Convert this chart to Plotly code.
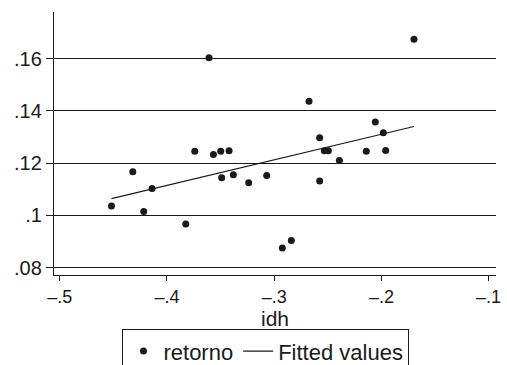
import plotly.graph_objects as go

# ---- data ----
idh = [-0.4518, -0.4319, -0.4217, -0.4139, -0.3825, -0.3741, -0.3608, -0.3567,
       -0.3499, -0.3421, -0.3490, -0.3381, -0.3238, -0.3070, -0.2924, -0.2840,
       -0.2675, -0.2576, -0.2576, -0.2532, -0.2495, -0.2392, -0.2141, -0.2057,
       -0.1982, -0.1960, -0.1696]
retorno = [0.1036, 0.1167, 0.1015, 0.1103, 0.0967, 0.1245, 0.1603, 0.1233,
           0.1245, 0.1247, 0.1144, 0.1155, 0.1125, 0.1153, 0.0875, 0.0904,
           0.1437, 0.1297, 0.1132, 0.1247, 0.1247, 0.1210, 0.1245, 0.1357,
           0.1316, 0.1248, 0.1674]
fit_x = [-0.4518, -0.1696]
fit_y = [0.1064, 0.1340]

x_tickvals = [-0.5, -0.4, -0.3, -0.2, -0.1]
x_ticktext = ["\u2013.5", "\u2013.4", "\u2013.3", "\u2013.2", "\u2013.1"]
y_tickvals = [0.08, 0.10, 0.12, 0.14, 0.16]
y_ticktext = [".08", ".1", ".12", ".14", ".16"]

FONT = "Liberation Sans, Arial, Helvetica, sans-serif"
INK = "#1a1a1a"

fig = go.Figure()
fig.add_trace(go.Scatter(
    x=idh, y=retorno, mode="markers", name="retorno",
    marker=dict(color=INK, size=7, line=dict(width=0)),
))
fig.add_trace(go.Scatter(
    x=fit_x, y=fit_y, mode="lines", name="Fitted values",
    line=dict(color=INK, width=1.2),
))

fig.update_layout(
    width=507, height=365,
    margin=dict(l=53.5, r=11.3, t=11.7, b=90, autoexpand=False),
    paper_bgcolor="white", plot_bgcolor="white",
    font=dict(family=FONT, color=INK, size=20),
    showlegend=True,
    legend=dict(
        orientation="h", x=0.1549, xanchor="left", y=-0.2062, yanchor="top",
        bordercolor=INK, borderwidth=1, bgcolor="white",
        font=dict(size=22, family=FONT, color=INK),
    ),
    xaxis=dict(
        range=[-0.5054, -0.0931], tickvals=x_tickvals, ticktext=x_ticktext,
        showgrid=False, zeroline=False, showline=True, linecolor=INK, linewidth=1.3,
        ticks="outside", ticklen=5, tickwidth=1.2, tickcolor=INK,
        tickfont=dict(size=18),
        title=dict(text="idh", font=dict(size=21), standoff=0),
    ),
    yaxis=dict(
        range=[0.0772, 0.1778], tickvals=y_tickvals, ticktext=y_ticktext,
        showgrid=True, gridcolor=INK, gridwidth=1.1, zeroline=False,
        showline=True, linecolor=INK, linewidth=1.3,
        ticks="outside", ticklen=7, tickwidth=1.2, tickcolor=INK,
        tickfont=dict(size=20),
    ),
)

fig.write_html(
    "out.html",
    config={"displayModeBar": False},
    post_script="document.body.style.margin='0px';document.body.style.overflow='hidden';",
)
